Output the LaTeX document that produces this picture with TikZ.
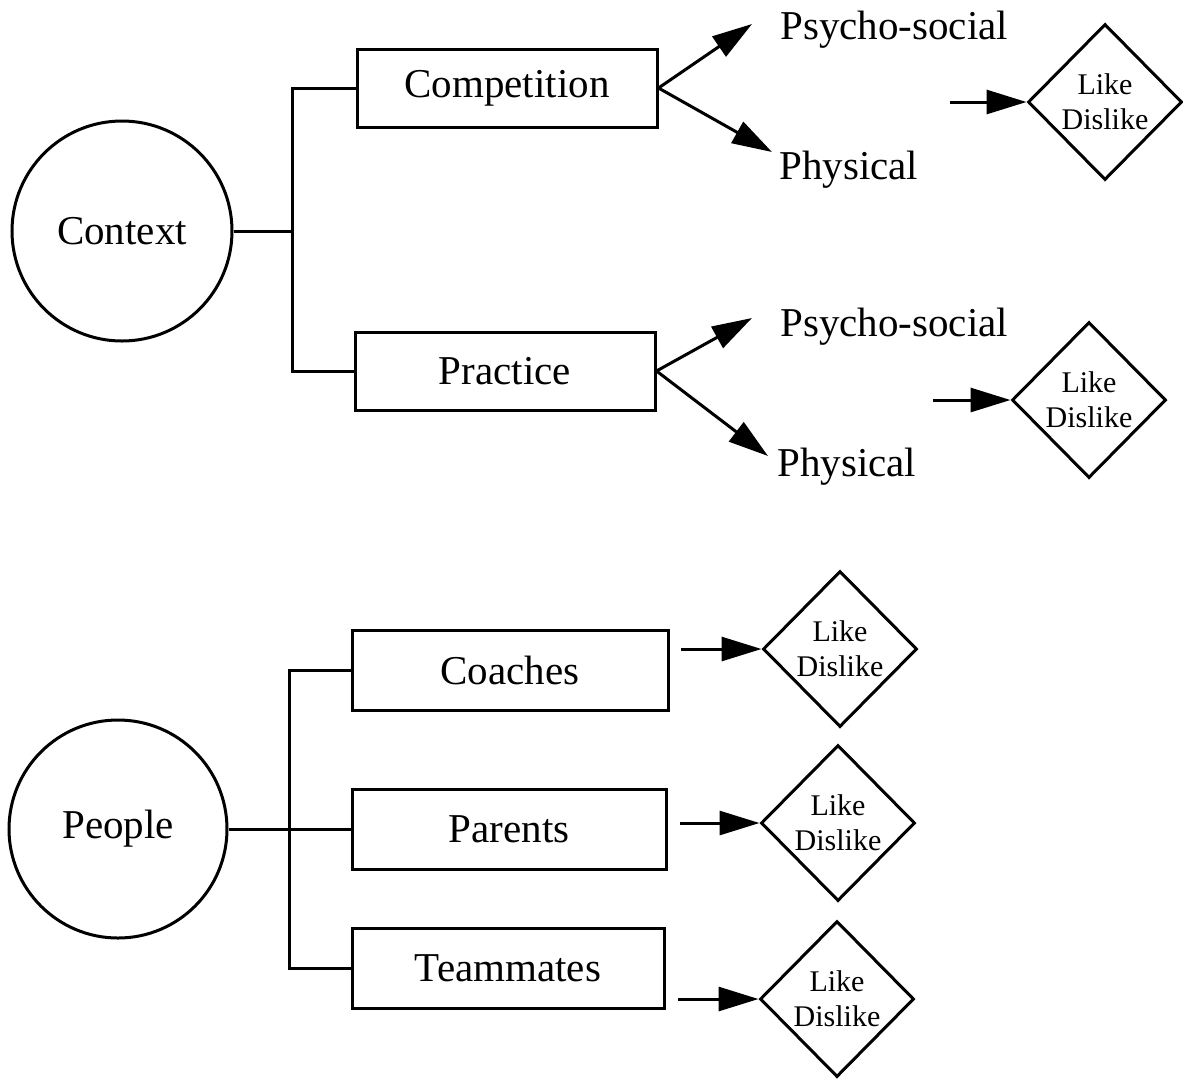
\documentclass[tikz,border=0pt]{standalone}
\usepackage{fontspec}
\setmainfont{Liberation Serif}
\usetikzlibrary{shapes.geometric,arrows.meta}
\begin{document}
\begin{tikzpicture}[x=0.5pt,y=-0.5pt,
  ln/.style={line width=1.5pt},
  bigfont/.style={font=\fontsize{20.5}{24}\selectfont},
  circ/.style={circle,draw,line width=1.5pt,inner sep=0pt,bigfont},
  box/.style={rectangle,draw,line width=1.5pt,minimum width=150pt,minimum height=39pt,inner sep=0pt,bigfont},
  lbl/.style={inner sep=0pt,anchor=west,bigfont},
  dia/.style={diamond,draw,line width=1.5pt,aspect=1,inner sep=0pt,minimum width=77pt,minimum height=78pt},
  dtxt/.style={font=\fontsize{15}{17.5}\selectfont,align=center,inner sep=0pt},
  arr/.style={line width=1.5pt,-{Triangle[length=20pt,width=12pt]}}]
\useasboundingbox (0,0) rectangle (1183,1078);
% Context part
\node[circ,minimum size=110pt] (ctx) at (122,231) {Context};
\node[box] (comp) at (507,88) {Competition};
\node[box] (prac) at (505,371) {Practice};
\coordinate (j1) at (292,231);
\draw[ln] (ctx) -- (j1);
\draw[ln] (comp.west) -| (j1) |- (prac.west);
\node[lbl] (ps1) at (780,30) {Psycho-social};
\node[lbl] (ph1) at (779,170) {Physical};
\node[lbl] (ps2) at (780,327) {Psycho-social};
\node[lbl] (ph2) at (777,467) {Physical};
\coordinate (t1) at (752,24);
\coordinate (t2) at (772,152);
\coordinate (t3) at (752,318);
\coordinate (t4) at (768,456);
\draw[arr] (comp.east) -- (t1);
\draw[arr] (comp.east) -- (t2);
\draw[arr] (prac.east) -- (t3);
\draw[arr] (prac.east) -- (t4);
\node[dia] (d1) at (1105,102) {};
\node[dtxt] (l1) at (d1.center) {Like\\Dislike};
\node[dia] (d2) at (1089,400) {};
\node[dtxt] (l2) at (d2.center) {Like\\Dislike};
\coordinate (s1) at (950,102);
\coordinate (s2) at (933,400);
\draw[arr] (s1) -- (d1.west);
\draw[arr] (s2) -- (d2.west);
% People part
\node[circ,minimum size=109pt] (peo) at (118,829) {People};
\node[box,minimum width=158pt,minimum height=40pt] (coach) at (510,670) {Coaches};
\node[box,minimum width=157pt,minimum height=40pt] (par) at (509,829) {Parents};
\node[box,minimum width=156pt,minimum height=40pt] (team) at (508,968) {Teammates};
\coordinate (j2) at (289,829);
\draw[ln] (peo) -- (j2);
\draw[ln] (coach.west) -| (j2) |- (team.west);
\draw[ln] (j2) -- (par.west);
\node[dia] (d3) at (840,649) {};
\node[dtxt] (l3) at (d3.center) {Like\\Dislike};
\node[dia] (d4) at (838,823) {};
\node[dtxt] (l4) at (d4.center) {Like\\Dislike};
\node[dia] (d5) at (837,999) {};
\node[dtxt] (l5) at (d5.center) {Like\\Dislike};
\coordinate (s3) at (681,649);
\coordinate (s4) at (680,823);
\coordinate (s5) at (678,999);
\draw[arr] (s3) -- (d3.west);
\draw[arr] (s4) -- (d4.west);
\draw[arr] (s5) -- (d5.west);
\end{tikzpicture}
\end{document}
